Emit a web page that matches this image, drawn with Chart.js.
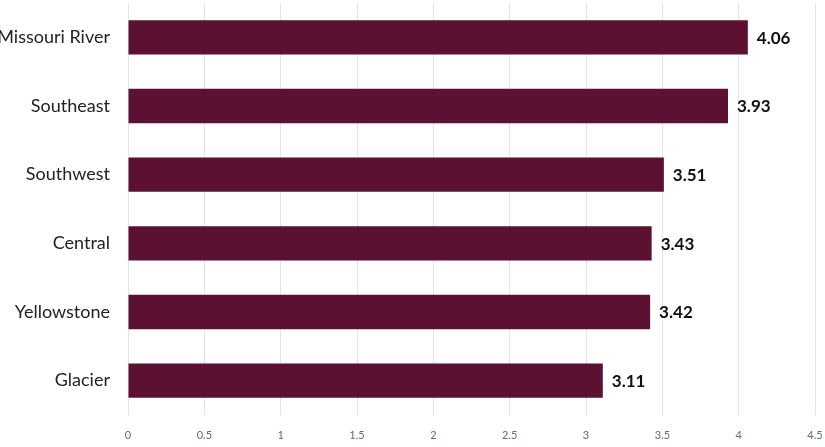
<!DOCTYPE html>
<html>
<head>
<meta charset="utf-8">
<script src="https://cdn.jsdelivr.net/npm/chart.js@4"></script>
<style>
  html, body { margin: 0; padding: 0; background: #fff; }
  #wrap { position: relative; width: 825px; height: 447px; }
</style>
</head>
<body>
<div id="wrap"><canvas id="regionChart" width="825" height="447"></canvas></div>
<script>
const regions = ['Missouri River', 'Southeast', 'Southwest', 'Central', 'Yellowstone', 'Glacier'];
const scores = [4.06, 3.93, 3.51, 3.43, 3.42, 3.11];
const xTicks = [0, 0.5, 1, 1.5, 2, 2.5, 3, 3.5, 4, 4.5];

const barColor = '#5c1032';
const fontFamily = 'Lato, "Open Sans", sans-serif';

// value labels at the end of each bar
const valueLabels = {
  id: 'valueLabels',
  afterDatasetsDraw(chart) {
    const ctx = chart.ctx;
    const meta = chart.getDatasetMeta(0);
    ctx.save();
    ctx.font = 'bold 17px ' + fontFamily;
    ctx.fillStyle = '#111';
    ctx.textAlign = 'left';
    ctx.textBaseline = 'middle';
    meta.data.forEach((bar, i) => {
      ctx.fillText(scores[i].toFixed(2), bar.x + 9, bar.y + 1);
    });
    ctx.restore();
  }
};

new Chart(document.getElementById('regionChart'), {
  type: 'bar',
  data: {
    labels: regions,
    datasets: [{
      data: scores,
      backgroundColor: barColor,
      borderWidth: 0,
      categoryPercentage: 1,
      barPercentage: 0.5
    }]
  },
  options: {
    indexAxis: 'y',
    responsive: false,
    animation: false,
    layout: { padding: { top: 3, right: 10, left: 0, bottom: 0 } },
    plugins: { legend: { display: false }, tooltip: { enabled: false } },
    scales: {
      x: {
        min: 0, max: 4.5,
        afterBuildTicks: (axis) => { axis.ticks = xTicks.map(v => ({ value: v })); },
        grid: { color: '#e2e4ec', lineWidth: 1, drawTicks: false },
        border: { display: false },
        ticks: {
          color: '#5d6b80',
          font: { family: fontFamily, size: 11 },
          padding: 14,
          callback: (v) => String(v)
        },
        afterFit: (axis) => {
          axis.height = 32;
          axis.paddingLeft = 0;
          axis.paddingRight = 0;
        }
      },
      y: {
        grid: { display: false, drawTicks: false },
        border: { display: false },
        ticks: {
          color: '#222',
          font: { family: fontFamily, size: 18 },
          padding: 18
        },
        afterFit: (axis) => {
          axis.width = 128;
          axis.paddingTop = 0;
          axis.paddingBottom = 0;
        }
      }
    }
  },
  plugins: [valueLabels]
});
</script>
</body>
</html>
